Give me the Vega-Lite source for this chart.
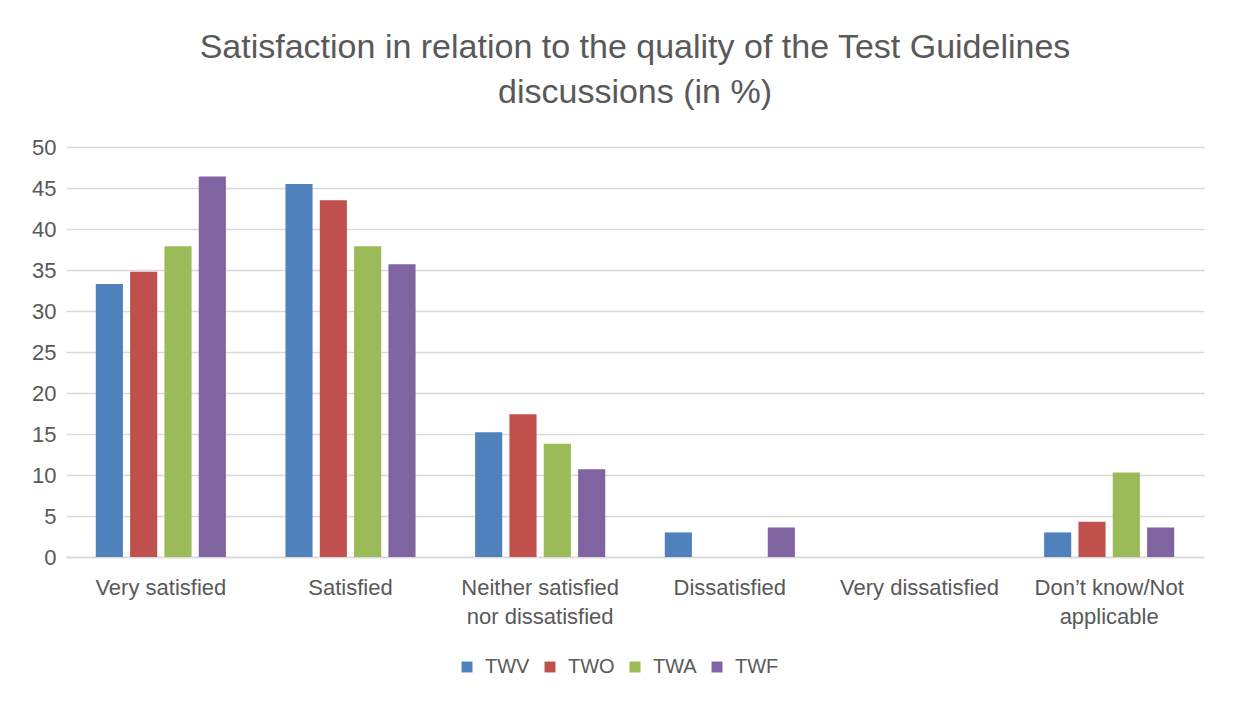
{
  "$schema": "https://vega.github.io/schema/vega-lite/v6.json",
  "width": 1138,
  "height": 410,
  "autosize": {"type": "none"},
  "padding": {"left": 66, "top": 147, "right": 29, "bottom": 151},
  "background": "white",
  "title": {
    "text": ["Satisfaction in relation to the quality  of the Test Guidelines", "discussions (in %)"],
    "fontSize": 34,
    "font": "Liberation Sans",
    "fontWeight": "normal",
    "color": "#595959",
    "lineHeight": 45,
    "offset": 26,
    "anchor": "middle"
  },
  "data": {
    "values": [
      {"category": "Very satisfied", "series": "TWV", "value": 33.3},
      {"category": "Very satisfied", "series": "TWO", "value": 34.8},
      {"category": "Very satisfied", "series": "TWA", "value": 37.9},
      {"category": "Very satisfied", "series": "TWF", "value": 46.4},
      {"category": "Satisfied", "series": "TWV", "value": 45.5},
      {"category": "Satisfied", "series": "TWO", "value": 43.5},
      {"category": "Satisfied", "series": "TWA", "value": 37.9},
      {"category": "Satisfied", "series": "TWF", "value": 35.7},
      {"category": "Neither satisfied nor dissatisfied", "series": "TWV", "value": 15.2},
      {"category": "Neither satisfied nor dissatisfied", "series": "TWO", "value": 17.4},
      {"category": "Neither satisfied nor dissatisfied", "series": "TWA", "value": 13.8},
      {"category": "Neither satisfied nor dissatisfied", "series": "TWF", "value": 10.7},
      {"category": "Dissatisfied", "series": "TWV", "value": 3.0},
      {"category": "Dissatisfied", "series": "TWO", "value": 0},
      {"category": "Dissatisfied", "series": "TWA", "value": 0},
      {"category": "Dissatisfied", "series": "TWF", "value": 3.6},
      {"category": "Very dissatisfied", "series": "TWV", "value": 0},
      {"category": "Very dissatisfied", "series": "TWO", "value": 0},
      {"category": "Very dissatisfied", "series": "TWA", "value": 0},
      {"category": "Very dissatisfied", "series": "TWF", "value": 0},
      {"category": "Don’t know/Not applicable", "series": "TWV", "value": 3.0},
      {"category": "Don’t know/Not applicable", "series": "TWO", "value": 4.3},
      {"category": "Don’t know/Not applicable", "series": "TWA", "value": 10.3},
      {"category": "Don’t know/Not applicable", "series": "TWF", "value": 3.6}
    ]
  },
  "mark": {"type": "bar"},
  "encoding": {
    "x": {
      "field": "category",
      "type": "nominal",
      "sort": null,
      "scale": {"paddingInner": 0.314, "paddingOuter": 0.157},
      "axis": {
        "title": null,
        "labelAngle": 0,
        "ticks": false,
        "domain": true,
        "domainColor": "#d9d9d9",
        "domainWidth": 1.5,
        "labelPadding": 30,
        "labelFontSize": 22,
        "labelFont": "Liberation Sans",
        "labelColor": "#595959",
        "labelLineHeight": 29,
        "labelBaseline": "middle",
        "labelExpr": "datum.label == 'Neither satisfied nor dissatisfied' ? ['Neither satisfied', 'nor dissatisfied'] : datum.label == 'Don’t know/Not applicable' ? ['Don’t know/Not', 'applicable'] : datum.label"
      }
    },
    "xOffset": {
      "field": "series",
      "type": "nominal",
      "sort": ["TWV", "TWO", "TWA", "TWF"],
      "scale": {"paddingInner": 0.21, "paddingOuter": 0}
    },
    "y": {
      "field": "value",
      "type": "quantitative",
      "scale": {"domain": [0, 50]},
      "axis": {
        "title": null,
        "values": [0, 5, 10, 15, 20, 25, 30, 35, 40, 45, 50],
        "ticks": false,
        "domain": false,
        "grid": true,
        "gridColor": "#d9d9d9",
        "gridWidth": 1.5,
        "labelFontSize": 22,
        "labelFont": "Liberation Sans",
        "labelColor": "#595959",
        "labelPadding": 10
      }
    },
    "color": {
      "field": "series",
      "type": "nominal",
      "sort": ["TWV", "TWO", "TWA", "TWF"],
      "scale": {"domain": ["TWV", "TWO", "TWA", "TWF"], "range": ["#4F81BD", "#C0504D", "#9BBB59", "#8064A2"]},
      "legend": {
        "title": null,
        "orient": "none",
        "legendX": 391,
        "legendY": 510,
        "direction": "horizontal",
        "symbolType": "square",
        "symbolSize": 120,
        "symbolStrokeWidth": 0,
        "labelFontSize": 20,
        "labelFont": "Liberation Sans",
        "labelColor": "#595959",
        "labelOffset": 8,
        "columnPadding": 10
      }
    }
  },
  "config": {
    "view": {"stroke": null}
  }
}
